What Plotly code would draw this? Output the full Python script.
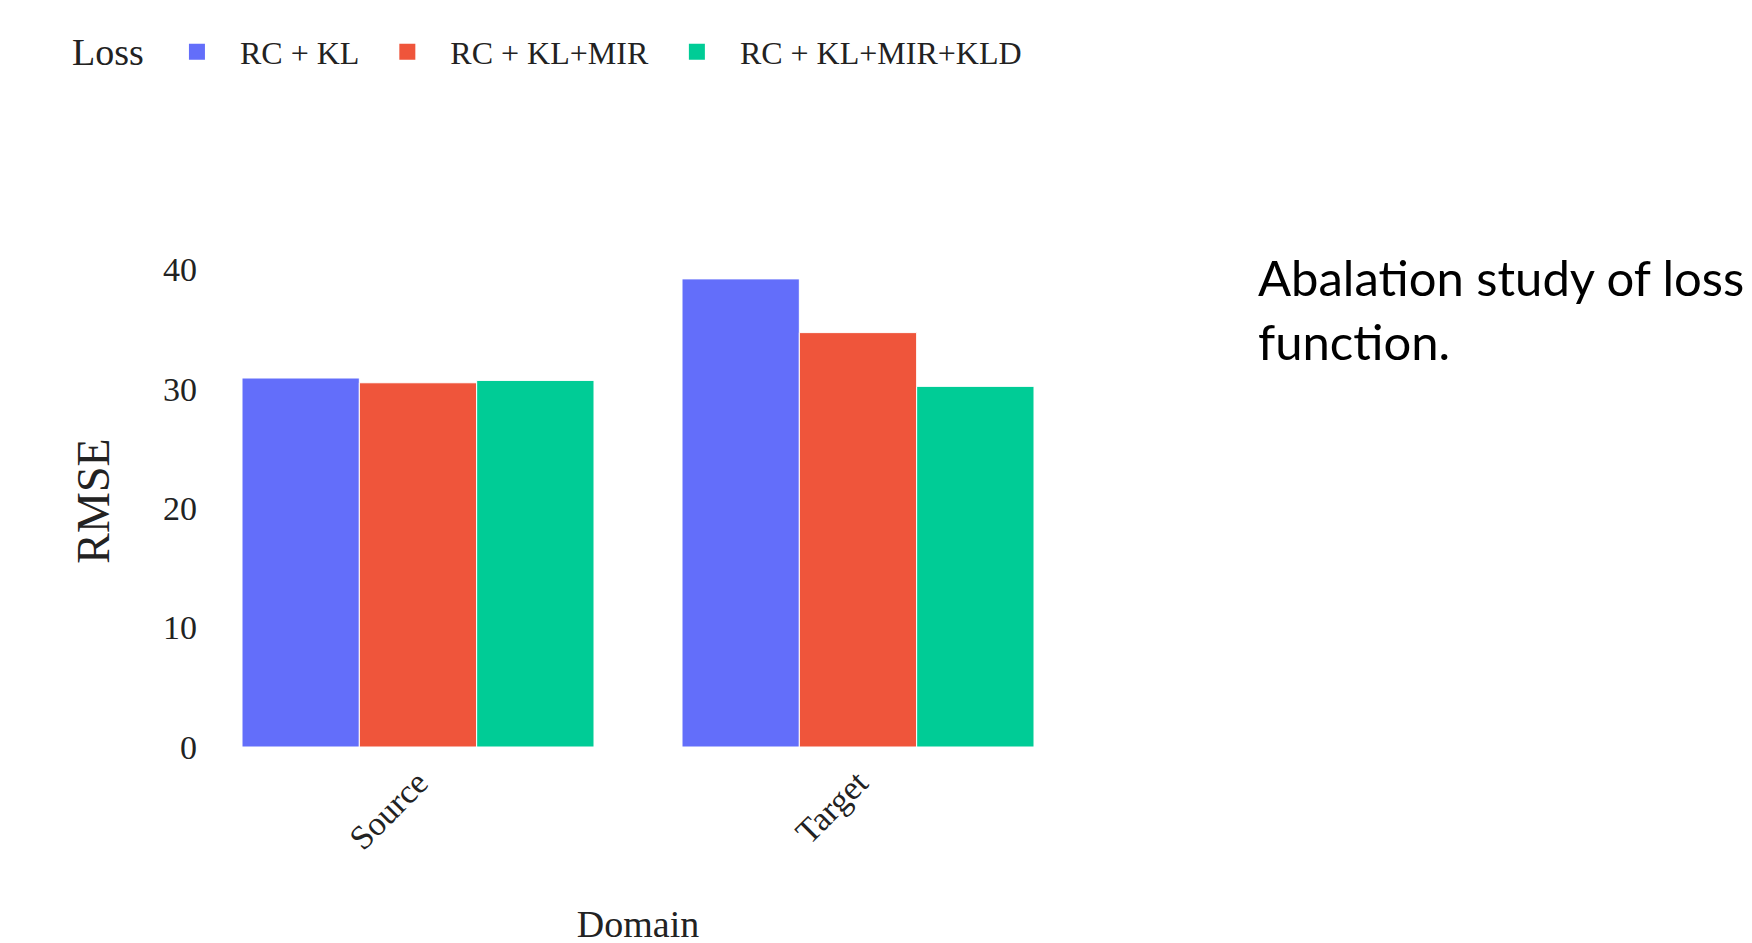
import plotly.graph_objects as go

domains = ["Source", "Target"]
series_names = ["RC + KL", "RC + KL+MIR", "RC + KL+MIR+KLD"]
rc_kl = [30.9, 39.2]
rc_kl_mir = [30.5, 34.7]
rc_kl_mir_kld = [30.7, 30.2]
colors = ["#636EFA", "#EF553B", "#00CC96"]
y_ticks = [0, 10, 20, 30, 40]
legend_title = "Loss"
note_text = "Abalation study of loss<br>function."

W, H = 1752, 943
serif = "Liberation Serif, Times New Roman, serif"

fig = go.Figure()
for name, vals, col in zip(series_names, [rc_kl, rc_kl_mir, rc_kl_mir_kld], colors):
    fig.add_trace(go.Bar(
        x=domains, y=vals, name=name, legendgroup=name, showlegend=False,
        marker=dict(color=col, line=dict(color="white", width=1)),
    ))
    # legend entry with a larger square swatch
    fig.add_trace(go.Scatter(
        x=[None], y=[None], mode="markers", name=name, legendgroup=name,
        marker=dict(color=col, symbol="square", size=16),
        hoverinfo="skip",
    ))

fig.update_layout(
    width=W, height=H,
    template="none",
    paper_bgcolor="white", plot_bgcolor="white",
    barmode="group", bargap=0.2, bargroupgap=0,
    margin=dict(l=190, r=682, t=247, b=204, autoexpand=False),
    font=dict(family=serif, color="#222222", size=32),
    showlegend=True,
    legend=dict(
        orientation="h",
        font=dict(size=32, family=serif, color="#222222"),
        xref="container", yref="container",
        x=0.0833, y=0.9533, xanchor="left", yanchor="middle",
        itemwidth=76, itemsizing="trace",
        bgcolor="rgba(0,0,0,0)",
    ),
    xaxis=dict(
        title=dict(text="Domain", font=dict(size=38, family=serif, color="#222222"), standoff=54),
        tickangle=-45,
        tickfont=dict(size=34, family=serif, color="#222222"),
        ticklabelstandoff=8,
        showgrid=False, zeroline=False, showline=False, ticks="",
        range=[-0.5, 1.5],
    ),
    yaxis=dict(
        title=dict(text="RMSE", font=dict(size=46, family=serif, color="#222222"), standoff=38),
        range=[0, 41.2],
        tickvals=y_ticks,
        tickfont=dict(size=34, family=serif, color="#222222"),
        showgrid=False, zeroline=False, showline=False, ticks="",
    ),
)

fig.add_annotation(
    text=legend_title,
    xref="paper", yref="paper",
    x=-0.1459, y=1.4136, xanchor="left", yanchor="middle",
    showarrow=False,
    font=dict(family=serif, size=38, color="#222222"),
)

fig.add_annotation(
    text=note_text,
    xref="paper", yref="paper",
    x=1.2023, y=1.018, xanchor="left", yanchor="top",
    showarrow=False, align="left",
    font=dict(family="Lato, Open Sans, sans-serif", size=49, color="black"),
)

fig.write_html("out.html")
